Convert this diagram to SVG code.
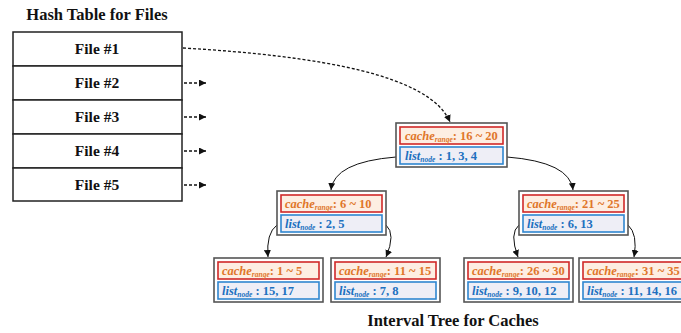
<svg xmlns="http://www.w3.org/2000/svg" width="681" height="333" viewBox="0 0 681 333">
<style>
.t{font-family:"Liberation Serif","Times New Roman",serif;font-weight:bold}
.title{font-size:16.5px;fill:#111}
.file{font-size:15.5px;fill:#111}
.cell{fill:#fff;stroke:#222;stroke-width:1.5}
.outer{fill:#fff;stroke:#555;stroke-width:1.6}
.rbox{fill:#fdeee2;stroke:#d02828;stroke-width:1.6}
.bbox{fill:#eeeef6;stroke:#2f86d0;stroke-width:1.6}
.rt{font-size:12.5px;fill:#e0762a}
.bt{font-size:12.5px;fill:#2070bf}
.it{font-style:italic}
.sub{font-size:7.5px;font-style:italic}
.edge{fill:none;stroke:#111;stroke-width:1}
.dash{fill:none;stroke:#111;stroke-width:1.3;stroke-dasharray:3,2}
</style>
<defs>
<marker id="ah" viewBox="0 0 10 10" refX="10" refY="5" markerWidth="7" markerHeight="7" markerUnits="userSpaceOnUse" orient="auto">
<path d="M0,0 L10,5 L0,10 z" fill="#111"/>
</marker>
</defs>

<text class="t title" x="97" y="20" text-anchor="middle">Hash Table for Files</text>
<g id="hashtable">
<g id="file1"><rect class="cell" x="13" y="32" width="169" height="34"/><text class="t file" x="97" y="54" text-anchor="middle">File #1</text></g>
<g id="file2"><rect class="cell" x="13" y="66" width="169" height="34"/><text class="t file" x="97" y="88" text-anchor="middle">File #2</text></g>
<g id="file3"><rect class="cell" x="13" y="100" width="169" height="34"/><text class="t file" x="97" y="122" text-anchor="middle">File #3</text></g>
<g id="file4"><rect class="cell" x="13" y="134" width="169" height="34"/><text class="t file" x="97" y="156" text-anchor="middle">File #4</text></g>
<g id="file5"><rect class="cell" x="13" y="168" width="169" height="33"/><text class="t file" x="97" y="190" text-anchor="middle">File #5</text></g>
</g>

<g id="connectors">
<path class="dash" d="M183,48 C320,56 430,75 450,122" marker-end="url(#ah)"/>
<path class="dash" d="M184,83 L206,83" marker-end="url(#ah)"/>
<path class="dash" d="M184,117 L206,117" marker-end="url(#ah)"/>
<path class="dash" d="M184,151 L206,151" marker-end="url(#ah)"/>
<path class="dash" d="M184,185 L206,185" marker-end="url(#ah)"/>
<path class="edge" d="M396,157 Q334,162 331,190" marker-end="url(#ah)"/>
<path class="edge" d="M507,157 Q570,162 573,190" marker-end="url(#ah)"/>
<path class="edge" d="M277,225 Q266,233 268,257" marker-end="url(#ah)"/>
<path class="edge" d="M386,225 Q396,234 386,257" marker-end="url(#ah)"/>
<path class="edge" d="M519,225 Q509,233 518,257" marker-end="url(#ah)"/>
<path class="edge" d="M628,225 Q638,234 634,257" marker-end="url(#ah)"/>
</g>

<g id="root">
<rect class="outer" x="396" y="123" width="111" height="44"/>
<rect class="rbox" x="400" y="127" width="103" height="17"/>
<rect class="bbox" x="400" y="147" width="103" height="17"/>
<text class="t rt" x="405" y="140"><tspan class="it">cache</tspan><tspan class="sub" dy="2">range</tspan><tspan dy="-2">: 16 ~ 20</tspan></text>
<text class="t bt" x="405" y="160"><tspan class="it">list</tspan><tspan class="sub" dy="2">node</tspan><tspan dy="-2"> : 1, 3, 4</tspan></text>
</g>

<g id="mid-left">
<rect class="outer" x="277" y="191" width="109" height="44"/>
<rect class="rbox" x="281" y="195" width="101" height="17"/>
<rect class="bbox" x="281" y="215" width="101" height="17"/>
<text class="t rt" x="285" y="208"><tspan class="it">cache</tspan><tspan class="sub" dy="2">range</tspan><tspan dy="-2">: 6 ~ 10</tspan></text>
<text class="t bt" x="285" y="228"><tspan class="it">list</tspan><tspan class="sub" dy="2">node</tspan><tspan dy="-2"> : 2, 5</tspan></text>
</g>

<g id="mid-right">
<rect class="outer" x="519" y="191" width="109" height="44"/>
<rect class="rbox" x="523" y="195" width="101" height="17"/>
<rect class="bbox" x="523" y="215" width="101" height="17"/>
<text class="t rt" x="527" y="208"><tspan class="it">cache</tspan><tspan class="sub" dy="2">range</tspan><tspan dy="-2">: 21 ~ 25</tspan></text>
<text class="t bt" x="527" y="228"><tspan class="it">list</tspan><tspan class="sub" dy="2">node</tspan><tspan dy="-2"> : 6, 13</tspan></text>
</g>

<g id="leaf1">
<rect class="outer" x="214" y="258" width="109" height="44"/>
<rect class="rbox" x="218" y="262" width="101" height="17"/>
<rect class="bbox" x="218" y="282" width="101" height="17"/>
<text class="t rt" x="222" y="275"><tspan class="it">cache</tspan><tspan class="sub" dy="2">range</tspan><tspan dy="-2">: 1 ~ 5</tspan></text>
<text class="t bt" x="222" y="295"><tspan class="it">list</tspan><tspan class="sub" dy="2">node</tspan><tspan dy="-2"> : 15, 17</tspan></text>
</g>

<g id="leaf2">
<rect class="outer" x="331" y="258" width="109" height="44"/>
<rect class="rbox" x="335" y="262" width="101" height="17"/>
<rect class="bbox" x="335" y="282" width="101" height="17"/>
<text class="t rt" x="339" y="275"><tspan class="it">cache</tspan><tspan class="sub" dy="2">range</tspan><tspan dy="-2">: 11 ~ 15</tspan></text>
<text class="t bt" x="339" y="295"><tspan class="it">list</tspan><tspan class="sub" dy="2">node</tspan><tspan dy="-2"> : 7, 8</tspan></text>
</g>

<g id="leaf3">
<rect class="outer" x="464" y="258" width="109" height="44"/>
<rect class="rbox" x="468" y="262" width="101" height="17"/>
<rect class="bbox" x="468" y="282" width="101" height="17"/>
<text class="t rt" x="472" y="275"><tspan class="it">cache</tspan><tspan class="sub" dy="2">range</tspan><tspan dy="-2">: 26 ~ 30</tspan></text>
<text class="t bt" x="472" y="295"><tspan class="it">list</tspan><tspan class="sub" dy="2">node</tspan><tspan dy="-2"> : 9, 10, 12</tspan></text>
</g>

<g id="leaf4">
<rect class="outer" x="579" y="258" width="109" height="44"/>
<rect class="rbox" x="583" y="262" width="101" height="17"/>
<rect class="bbox" x="583" y="282" width="101" height="17"/>
<text class="t rt" x="587" y="275"><tspan class="it">cache</tspan><tspan class="sub" dy="2">range</tspan><tspan dy="-2">: 31 ~ 35</tspan></text>
<text class="t bt" x="587" y="295"><tspan class="it">list</tspan><tspan class="sub" dy="2">node</tspan><tspan dy="-2"> : 11, 14, 16</tspan></text>
</g>

<text class="t title" x="453" y="326" text-anchor="middle">Interval Tree for Caches</text>
</svg>
